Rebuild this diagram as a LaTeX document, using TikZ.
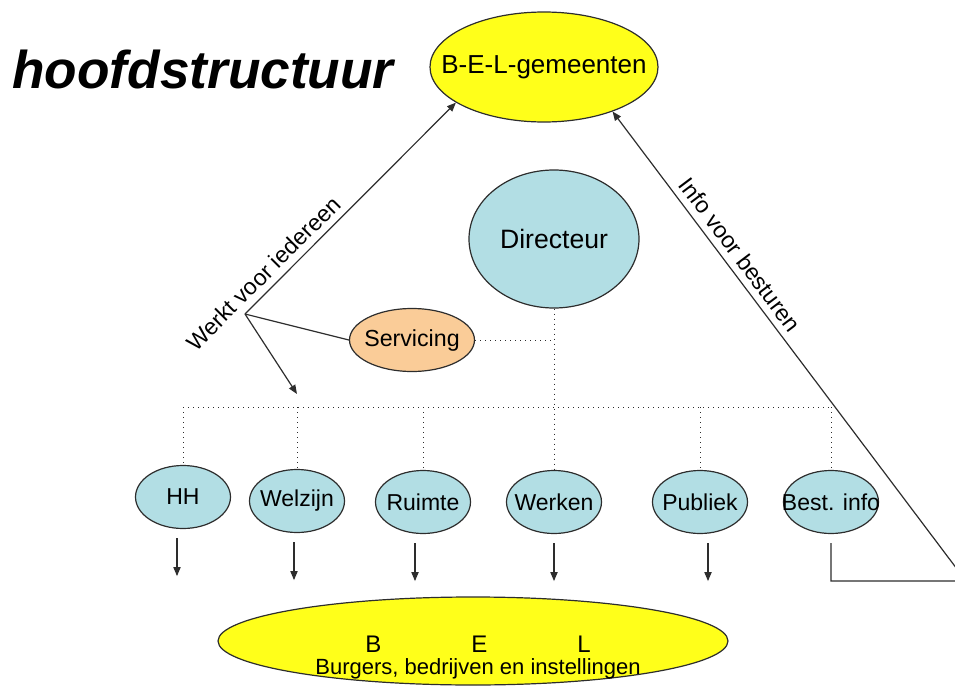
\documentclass[tikz,border=0pt]{standalone}
\usepackage{fontspec}
\setmainfont{Liberation Sans}
\usepackage{xcolor}
\usepackage{tikz}
\usetikzlibrary{arrows.meta}
\usetikzlibrary{shapes.geometric}
\definecolor{geel}{RGB}{255,255,26}
\definecolor{lichtblauw}{RGB}{178,222,228}
\definecolor{oranje}{RGB}{250,204,152}
\definecolor{lijnkleur}{RGB}{45,45,45}
\newcommand{\midden}[1]{\makebox[0pt]{#1}}
\tikzset{
  ovaal/.style={ellipse, draw=lijnkleur, line width=0.6pt, inner sep=0pt},
  eenheid/.style={ovaal, fill=lichtblauw, minimum width=47.5pt, minimum height=31.5pt, font=\fontsize{11.5}{13}\selectfont},
  verbinding/.style={draw=lijnkleur, line width=0.6pt},
  pijl/.style={verbinding, -{Triangle[length=4.5pt,width=3.6pt]}},
  stippel/.style={draw=lijnkleur, line width=0.5pt, dotted},
  schuin/.style={sloped, above, font=\fontsize{11.5}{13}\selectfont},
}

\begin{document}
\begin{tikzpicture}[x=0.5pt, y=-0.5pt]
  \useasboundingbox (0,0) rectangle (955,686);
  \clip (0,0) rectangle (955,686);
  \node[anchor=base west, inner sep=0pt, font=\fontsize{26.6}{30}\selectfont\bfseries\itshape] (titel) at (12,88) {hoofdstructuur};

  \node[ovaal, fill=geel, minimum width=114pt, minimum height=55pt, font=\fontsize{13}{15}\selectfont] (bel) at (544,67) {\midden{B-E-L-gemeenten}};
  \node[ovaal, fill=lichtblauw, minimum width=85pt, minimum height=69pt, font=\fontsize{13.3}{15}\selectfont] (dir) at (554,239) {\midden{Directeur}};
  \node[ovaal, fill=oranje, minimum width=62.5pt, minimum height=31.5pt, font=\fontsize{11.6}{13}\selectfont] (serv) at (412,340) {\midden{Servicing}};

  % de diensten
  \node[eenheid] (hh) at (183,497) {\midden{HH}};
  \node[eenheid] (welzijn) at (297,501) {\midden{Welzijn}};
  \node[eenheid] (ruimte) at (423,502) {\midden{Ruimte}};
  \node[eenheid] (werken) at (554,502) {\midden{Werken}};
  \node[eenheid] (publiek) at (700,502) {\midden{Publiek}};
  \node[eenheid] (bestinfo) at (831,502) {\midden{Best. info}};

  \node[ovaal, fill=geel, minimum width=255pt, minimum height=44pt] (burgers) at (473,641) {};
  \node[align=center, inner sep=0pt, font=\fontsize{12}{12}\selectfont] (burgers-tekst) at (478,658)
    {B\hspace{45pt}E\hspace{45pt}L\\[-1pt]\fontsize{11}{12}\selectfont Burgers, bedrijven en instellingen};

  \coordinate (bus) at (0,407);
  \coordinate (hub) at (245,314);
  \coordinate (hub-pijl) at (297,394);
  \coordinate (hoek) at (966,581);

  % stippellijnen
  \draw[stippel] (hh.north |- bus) -- (bestinfo.north |- bus);
  \foreach \n in {hh,welzijn,ruimte,publiek,bestinfo}
    \draw[stippel] (\n.north |- bus) -- (\n.north);
  \draw[stippel] (dir.south) -- (werken.north);
  \draw[stippel] (serv.east) -- (serv.east -| dir.south);

  \draw[verbinding] (serv.west) -- (hub);
  \draw[pijl] (hub) -- (hub-pijl);
  \draw[pijl] (hub) -- node[schuin, pos=0.14] {Werkt voor iedereen} (bel.202);

  \foreach \n/\dx in {hh/-3, welzijn/-1.5, ruimte/-4, werken/0, publiek/4}
    \draw[pijl] ([xshift=\dx pt, yshift=-4.5pt]\n.south) -- ++(0,38);
  \draw[pijl] ([yshift=-4.5pt]bestinfo.south) |- (hoek) -- node[schuin, pos=0.675] {Info voor besturen} (bel.-33);
\end{tikzpicture}
\end{document}
